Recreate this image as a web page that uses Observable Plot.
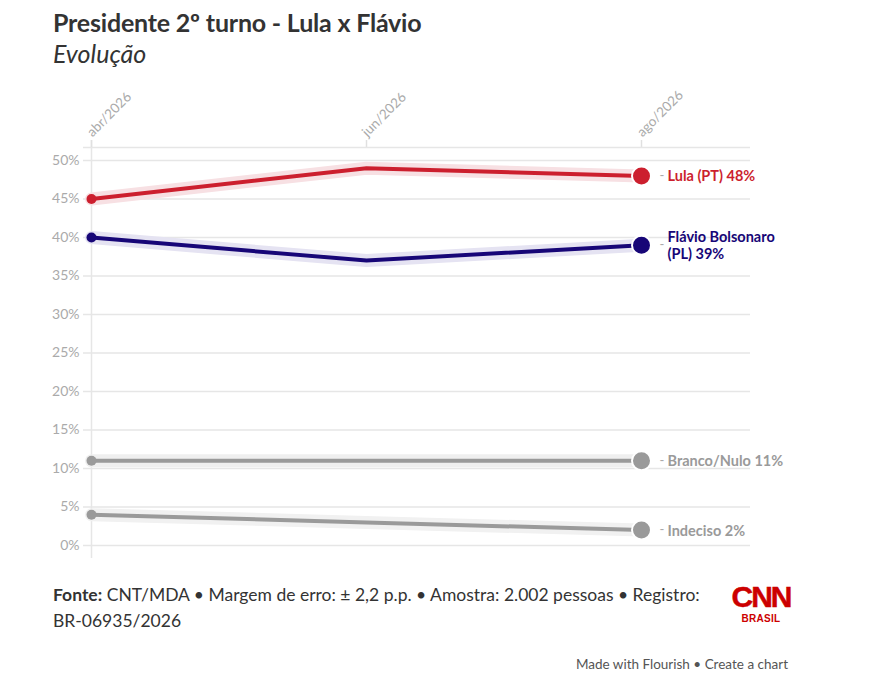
<!DOCTYPE html>
<html><head><meta charset="utf-8">
<script src="https://cdn.jsdelivr.net/npm/d3@7"></script>
<script src="https://cdn.jsdelivr.net/npm/@observablehq/plot@0.6"></script>
<style>
body{margin:0;background:#fff;font-family:Lato,"Open Sans",sans-serif;}
#wrap{position:relative;width:885px;height:687px;overflow:hidden;}
#title{position:absolute;left:53px;top:7px;font-weight:700;font-size:25px;color:#333;white-space:nowrap;letter-spacing:-0.2px}
#sub{position:absolute;left:53px;top:38px;font-style:italic;font-size:25px;color:#333;}
#chart{position:absolute;left:0;top:80px;}
#foot{position:absolute;left:53px;top:582px;font-size:17.5px;color:#333;line-height:26px;width:690px}
#made{position:absolute;right:97px;top:656px;font-size:13.5px;color:#555;}
#logo{position:absolute;left:731px;top:582px;width:60px;text-align:center;color:#cc0000;font-family:"Liberation Sans",Arial,sans-serif;font-weight:700}
#logo .c{font-size:30px;line-height:30px;letter-spacing:-2px;-webkit-text-stroke:0.5px #cc0000}
#logo .b{font-size:10px;line-height:12px;letter-spacing:0.3px;margin-top:1px}
</style></head>
<body><div id="wrap">
<div id="title">Presidente 2º turno - Lula x Flávio</div>
<div id="sub">Evolução</div>
<div id="chart"></div>
<div id="foot"><b>Fonte:</b> CNT/MDA • Margem de erro: ± 2,2 p.p. • Amostra: 2.002 pessoas • Registro:<br>BR-06935/2026</div>
<div id="logo"><div class="c">CNN</div><div class="b">BRASIL</div></div>
<div id="made">Made with Flourish • Create a chart</div>
</div>
<script>
const periods = ["abr/2026", "jun/2026", "ago/2026"];
const seriesNames = ["Lula (PT)", "Flávio Bolsonaro\n(PL)", "Branco/Nulo", "Indeciso"];
const lula = [45, 49, 48];
const flavio = [40, 37, 39];
const branco = [11, 11, 11];
const indeciso = [4, 3, 2];
const lineColors = ["#cc1f2e", "#170677", "#9a9a9a", "#9a9a9a"];
const haloColors = ["#f7e0e3", "#e5e3f2", "#efefef", "#f1f1f1"];
const yTicks = [0, 5, 10, 15, 20, 25, 30, 35, 40, 45, 50];

const seriesValues = [lula, flavio, branco, indeciso];
const data = [];
seriesValues.forEach((vals, i) => vals.forEach((v, j) => data.push({series: i, period: periods[j], value: v})));
const lasts = seriesValues.map((vals, i) => ({series: i, period: periods[periods.length - 1], value: vals[vals.length - 1], label: seriesNames[i] + " " + vals[vals.length - 1] + "%"}));
const firsts = seriesValues.map((vals, i) => ({series: i, period: periods[0], value: vals[0]}));

const yTop = 51.7, yBottom = -1.7, yTickTop = 52.6, yLabel = 53.4;
const firstPeriod = () => periods[0];

const chart = Plot.plot({
  width: 885,
  height: 500,
  marginLeft: 83,
  marginRight: 135,
  marginTop: 0,
  marginBottom: 0,
  style: {fontFamily: "Lato, sans-serif", background: "transparent"},
  x: {type: "point", domain: periods, range: [91, 641], padding: 0, axis: null},
  y: {domain: [0, 50], range: [465, 80], axis: null},
  marks: [
    Plot.ruleY(yTicks, {stroke: "#e6e6e6", strokeWidth: 1.5}),
    Plot.ruleY([yTop], {stroke: "#e6e6e6", strokeWidth: 1.5}),
    Plot.ruleX([periods[0]], {y1: yBottom, y2: yTickTop, stroke: "#e6e6e6", strokeWidth: 1.5}),
    Plot.ruleX(periods, {y1: yTop, y2: yTickTop, stroke: "#e0e0e0", strokeWidth: 1.5}),
    Plot.text(periods, {x: d => d, y: yLabel, text: d => d, rotate: -45, textAnchor: "start", fill: "#aaa", fontSize: 13.5, dx: -2}),
    Plot.text(yTicks, {x: firstPeriod, y: d => d, text: d => d + "%", textAnchor: "end", dx: -12, fill: "#aaa", fontSize: 14}),
    Plot.line(data, {x: "period", y: "value", z: "series", stroke: d => haloColors[d.series], strokeWidth: 13, strokeLinejoin: "round", strokeLinecap: "round"}),
    Plot.line(data, {x: "period", y: "value", z: "series", stroke: d => lineColors[d.series], strokeWidth: 4, strokeLinejoin: "round", strokeLinecap: "round"}),
    Plot.dot(firsts, {x: "period", y: "value", r: 5, fill: d => lineColors[d.series]}),
    Plot.dot(lasts, {x: "period", y: "value", r: 9.5, fill: d => lineColors[d.series], stroke: "white", strokeWidth: 2}),
    Plot.text(lasts, {x: "period", y: "value", text: d => "-", dx: 18, textAnchor: "start", fill: "#aaa", fontSize: 13}),
    Plot.text(lasts, {x: "period", y: "value", text: "label", dx: 26, textAnchor: "start", fill: d => lineColors[d.series], fontSize: 14.5, fontWeight: 700, lineHeight: 1.2})
  ]
});
document.getElementById("chart").appendChild(chart);
</script>
</body></html>
